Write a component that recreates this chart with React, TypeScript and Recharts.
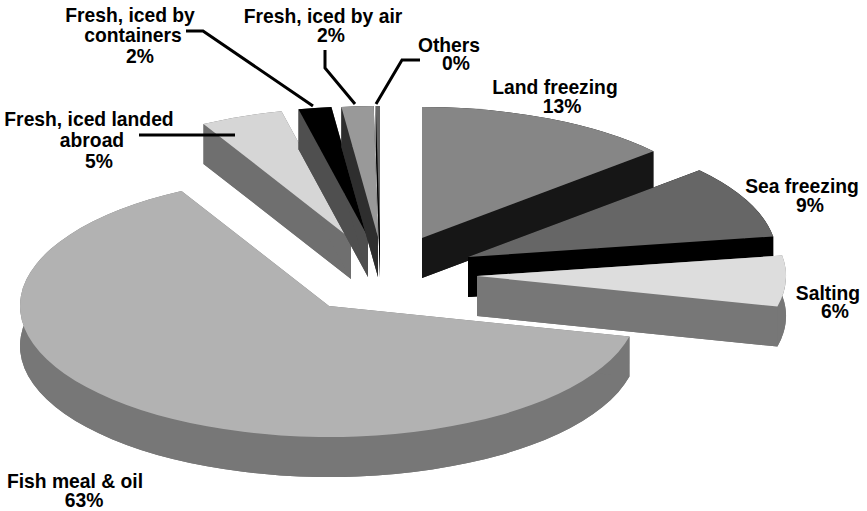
import { PieChart, Pie } from 'recharts'

const names = [
  'Land freezing',
  'Sea freezing',
  'Salting',
  'Fish meal & oil',
  'Fresh, iced landed abroad',
  'Fresh, iced by containers',
  'Fresh, iced by air',
  'Others'
]
// slice sizes, the printed labels are rounded
const shares = [13.47, 9.03, 6.25, 63.33, 4.31, 1.72, 1.67, 0.22]
const labelLines = [
  ['Land freezing', '13%'],
  ['Sea freezing', '9%'],
  ['Salting', '6%'],
  ['Fish meal & oil', '63%'],
  ['Fresh, iced landed', 'abroad', '5%'],
  ['Fresh, iced by', 'containers', '2%'],
  ['Fresh, iced by air', '2%'],
  ['Others', '0%']
]

const topColors = ['#868686', '#666666', '#dddddd', '#b2b2b2', '#d6d6d6', '#000000', '#999999', '#666666']
const wallColors = ['#161616', '#000000', '#777777', '#777777', '#6f6f6f', '#4f4f4f', '#2e2e2e', '#000000']

// how far each slice is pulled out of the pie
const explode = [
  [27, -26],
  [73, -7],
  [82, 12],
  [-66, 42],
  [-44, -25],
  [-27, -27],
  [-17, -27],
  [-15, -27]
]

// [x, baseline] of each text line
const labelPos = [
  [[555, 94], [562, 113]],
  [[802, 193], [810, 212]],
  [[828, 300], [835, 318]],
  [[75, 488], [84, 507]],
  [[89, 126], [92, 147], [99, 168]],
  [[130, 22], [133, 42], [140, 63]],
  [[323, 23], [331, 42]],
  [[449, 52], [456, 70]]
]

const leaders: Record<number, number[][]> = {
  4: [[139, 135], [235, 135]],
  5: [[186, 31], [203, 31], [313, 106]],
  6: [[325, 50], [325, 68], [355, 104]],
  7: [[420, 60], [402, 60], [376, 104]]
}

const W = 867
const H = 511
const RX = 309
const RY = 131
const DEPTH = 40

const rows = names.map((name, i) => ({ name, share: shares[i] }))

function SliceShape(props: any) {
  const i = names.indexOf(props.payload?.name ?? props.name)
  const { cx, cy, outerRadius, startAngle, endAngle } = props
  const rx = outerRadius
  const ry = (outerRadius * RY) / RX
  const ax = cx + explode[i][0]
  const ay = cy + explode[i][1]
  const pt = (deg: number, dz = 0) => {
    const r = (deg * Math.PI) / 180
    return `${ax + rx * Math.cos(r)} ${ay - ry * Math.sin(r) + dz}`
  }
  const large = Math.abs(startAngle - endAngle) > 180 ? 1 : 0
  const wedge = (dz: number) =>
    `M${ax} ${ay + dz}L${pt(startAngle, dz)}A${rx} ${ry} 0 ${large} 1 ${pt(endAngle, dz)}Z`
  const cut = (deg: number) =>
    `M${ax} ${ay}L${pt(deg)}L${pt(deg, DEPTH)}L${ax} ${ay + DEPTH}Z`
  const rim =
    `M${pt(startAngle)}A${rx} ${ry} 0 ${large} 1 ${pt(endAngle)}` +
    `L${pt(endAngle, DEPTH)}A${rx} ${ry} 0 ${large} 0 ${pt(startAngle, DEPTH)}Z`
  const wall = wallColors[i]
  return (
    <g>
      <path d={wedge(DEPTH)} fill={wall} />
      <path d={rim} fill={wall} />
      <path d={cut(startAngle)} fill={wall} />
      <path d={cut(endAngle)} fill={wall} />
      <path d={wedge(0)} fill={topColors[i]} />
    </g>
  )
}

function SliceLabel(props: any) {
  const i = props.index
  const line = leaders[i]
  return (
    <g>
      {line && (
        <polyline
          points={line.map((p) => p.join(',')).join(' ')}
          fill="none"
          stroke="#000"
          strokeWidth={3}
        />
      )}
      {labelLines[i].map((t, k) => (
        <text
          key={k}
          x={labelPos[i][k][0]}
          y={labelPos[i][k][1]}
          textAnchor="middle"
          fontFamily="'Liberation Sans', Arial, sans-serif"
          fontWeight="bold"
          fontSize={19.3}
          fill="#000"
        >
          {t}
        </text>
      ))}
    </g>
  )
}

export default function App() {
  return (
    <div style={{ position: 'absolute', left: 0, top: 0, width: W, height: H, background: '#fff' }}>
      <PieChart width={W} height={H} margin={{ top: 0, right: 0, bottom: 0, left: 0 }}>
        <Pie
          data={rows}
          dataKey="share"
          nameKey="name"
          cx={395}
          cy={264}
          innerRadius={0}
          outerRadius={RX}
          startAngle={90}
          endAngle={-270}
          stroke="none"
          shape={SliceShape}
          label={SliceLabel}
          labelLine={false}
          isAnimationActive={false}
        />
      </PieChart>
    </div>
  )
}
